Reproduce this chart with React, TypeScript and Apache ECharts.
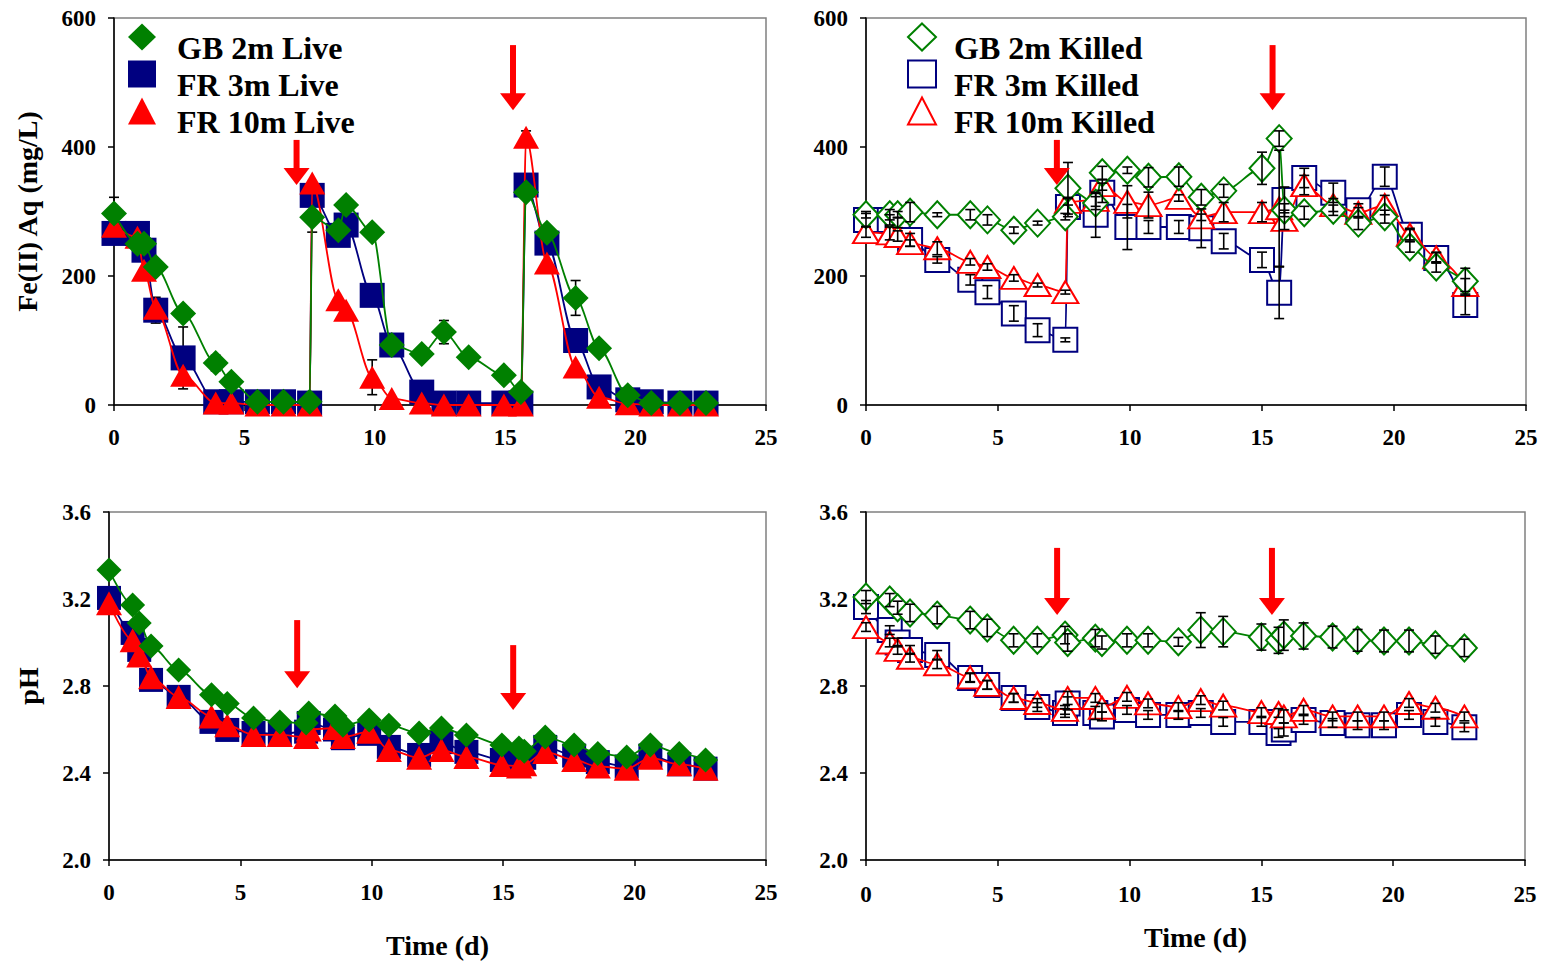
import React, { useEffect, useRef } from "react";
import * as echarts from "echarts";

const FONT = "'Liberation Serif', 'Times New Roman', serif";
const GREEN = "#008000";
const NAVY = "#000080";
const RED = "#FF0000";

// ---------- Time axes (days) ----------
const liveTime = [0, 0.9, 1.15, 1.6, 2.65, 3.9, 4.5, 5.5, 6.5, 7.5, 7.6, 8.6, 8.9, 9.9, 10.65, 11.8, 12.65, 13.6, 14.95, 15.6, 15.8, 16.6, 17.7, 18.6, 19.7, 20.6, 21.7, 22.7];
const killedTime = [0, 0.9, 1.2, 1.67, 2.7, 3.95, 4.6, 5.6, 6.5, 7.55, 7.65, 8.7, 8.95, 9.9, 10.7, 11.85, 12.7, 13.55, 15.0, 15.65, 15.85, 16.6, 17.7, 18.65, 19.65, 20.6, 21.6, 22.7];

// ---------- Fe(II) aq (mg/L), live ----------
const feGBLive = [297, 250, 250, 214, 142, 65, 36, 5, 5, 5, 291, 271, 310, 268, 93, 79, 113, 74, 46, 20, 330, 267, 166, 88, 15, 3, 3, 3];
const feFR3Live = [266, 266, 240, 147, 73, 5, 5, 5, 5, 3, 325, 263, 279, 170, 93, 20, 3, 3, 3, 3, 341, 251, 100, 28, 8, 5, 3, 3];
const feFR10Live = [277, 260, 209, 150, 46, 3, 3, 0, 0, 0, 344, 163, 147, 43, 10, 3, 0, 0, 0, 0, 415, 220, 59, 12, 2, 0, 0, 0];
const feGBLiveErr = [25, 0, 0, 0, 0, 12, 8, 0, 0, 0, 23, 0, 8, 5, 0, 0, 18, 0, 0, 0, 5, 10, 27, 8, 5, 0, 0, 0];
const feFR3LiveErr = [0, 0, 0, 20, 48, 0, 0, 0, 0, 0, 8, 0, 0, 0, 0, 0, 0, 0, 0, 0, 0, 10, 0, 0, 0, 0, 0, 0];
const feFR10LiveErr = [0, 0, 0, 0, 0, 0, 0, 0, 0, 0, 0, 0, 0, 27, 0, 0, 0, 0, 0, 0, 10, 0, 0, 0, 0, 0, 0, 0];

// ---------- Fe(II) aq (mg/L), killed ----------
const feGBKilled = [295, 295, 295, 299, 295, 295, 287, 271, 282, 292, 336, 313, 360, 364, 353, 354, 322, 332, 367, 413, 302, 298, 302, 282, 292, 245, 214, 192];
const feFR3Killed = [287, 287, 283, 256, 225, 194, 175, 142, 116, 101, 307, 295, 329, 276, 276, 276, 274, 254, 225, 174, 318, 352, 329, 302, 354, 264, 228, 155];
const feFR10Killed = [268, 266, 262, 251, 243, 222, 214, 197, 186, 175, 315, 318, 341, 315, 310, 321, 291, 299, 299, 305, 287, 341, 310, 298, 310, 264, 229, 186];
const feGBKilledErr = [5, 8, 5, 15, 3, 8, 8, 5, 3, 5, 40, 10, 10, 5, 15, 15, 12, 10, 25, 12, 10, 10, 8, 10, 10, 8, 8, 20];
const feFR3KilledErr = [10, 8, 8, 10, 5, 8, 10, 12, 10, 3, 15, 35, 15, 35, 10, 10, 30, 12, 12, 40, 20, 15, 15, 10, 15, 8, 8, 15];
const feFR10KilledErr = [8, 10, 8, 5, 10, 5, 5, 5, 3, 3, 5, 10, 8, 25, 20, 5, 5, 15, 15, 90, 15, 15, 10, 8, 15, 10, 8, 10];

// ---------- pH, live ----------
const phGBLive = [3.333, 3.172, 3.09, 2.984, 2.874, 2.76, 2.72, 2.653, 2.634, 2.63, 2.676, 2.662, 2.62, 2.644, 2.62, 2.584, 2.607, 2.575, 2.529, 2.515, 2.5, 2.565, 2.529, 2.49, 2.474, 2.529, 2.49, 2.46];
const phFR3Live = [3.205, 3.044, 2.966, 2.828, 2.75, 2.635, 2.598, 2.584, 2.58, 2.59, 2.63, 2.6, 2.56, 2.58, 2.52, 2.483, 2.542, 2.497, 2.46, 2.46, 2.47, 2.52, 2.48, 2.45, 2.43, 2.48, 2.44, 2.42];
const phFR10Live = [3.18, 3.01, 2.94, 2.84, 2.75, 2.66, 2.62, 2.575, 2.575, 2.565, 2.6, 2.607, 2.565, 2.59, 2.506, 2.47, 2.506, 2.474, 2.437, 2.43, 2.44, 2.497, 2.46, 2.43, 2.42, 2.47, 2.44, 2.42];

// ---------- pH, killed ----------
const phGBKilled = [3.209, 3.195, 3.16, 3.136, 3.126, 3.103, 3.067, 3.01, 3.01, 3.034, 3.0, 3.02, 3.0, 3.01, 3.01, 3.003, 3.057, 3.05, 3.025, 3.01, 3.034, 3.03, 3.025, 3.01, 3.007, 3.007, 2.99, 2.975];
const phFR3Killed = [3.163, 3.057, 3.0, 2.966, 2.943, 2.837, 2.805, 2.745, 2.703, 2.676, 2.72, 2.676, 2.66, 2.69, 2.667, 2.667, 2.676, 2.635, 2.635, 2.584, 2.6, 2.644, 2.63, 2.62, 2.62, 2.667, 2.635, 2.61];
const phFR10Killed = [3.071, 3.0, 2.966, 2.93, 2.9, 2.84, 2.805, 2.745, 2.722, 2.69, 2.745, 2.745, 2.7, 2.75, 2.72, 2.703, 2.735, 2.71, 2.68, 2.676, 2.66, 2.69, 2.66, 2.66, 2.66, 2.722, 2.7, 2.66];
const phGBKilledErr = [0.03, 0.03, 0.03, 0.04, 0.04, 0.04, 0.04, 0.03, 0.03, 0.04, 0.04, 0.04, 0.03, 0.03, 0.03, 0.02, 0.08, 0.07, 0.06, 0.06, 0.07, 0.06, 0.05, 0.05, 0.05, 0.05, 0.04, 0.04];
const phFR3KilledErr = [0.03, 0.02, 0.02, 0.02, 0.02, 0.02, 0.02, 0.02, 0.02, 0.02, 0.03, 0.03, 0.02, 0.02, 0.02, 0.02, 0.02, 0.02, 0.02, 0.02, 0.03, 0.02, 0.02, 0.02, 0.02, 0.02, 0.02, 0.02];
const phFR10KilledErr = [0.02, 0.02, 0.02, 0.02, 0.02, 0.02, 0.02, 0.02, 0.02, 0.02, 0.03, 0.02, 0.02, 0.02, 0.02, 0.02, 0.02, 0.02, 0.02, 0.02, 0.03, 0.02, 0.02, 0.02, 0.02, 0.02, 0.02, 0.02];

// ---------- Arrows: [time, top value, tip value] per panel ----------
const arrowsFeLive = [[7.0, 411, 341], [15.3, 558, 457]];
const arrowsFeKilled = [[7.23, 411, 341], [15.4, 558, 457]];
const arrowsPhLive = [[7.16, 3.103, 2.79], [15.38, 2.988, 2.69]];
const arrowsPhKilled = [[7.25, 3.435, 3.126], [15.4, 3.435, 3.126]];

// ---------- Axis ticks ----------
const timeTicks = { min: 0, max: 25, interval: 5 };
const feTicks = { min: 0, max: 600, interval: 200 };
const phTicks = { min: 2.0, max: 3.6, interval: 0.4 };

const liveNames = ["GB 2m Live", "FR 3m Live", "FR 10m Live"];
const killedNames = ["GB 2m Killed", "FR 3m Killed", "FR 10m Killed"];

function errRender(params: any, api: any) {
  const x = api.value(0);
  const p1 = api.coord([x, api.value(2)]);
  const p2 = api.coord([x, api.value(1)]);
  const w = 5;
  const style = { stroke: "#000", lineWidth: 1.6 };
  return {
    type: "group",
    children: [
      { type: "line", shape: { x1: p1[0], y1: p1[1], x2: p2[0], y2: p2[1] }, style },
      { type: "line", shape: { x1: p1[0] - w, y1: p1[1], x2: p1[0] + w, y2: p1[1] }, style },
      { type: "line", shape: { x1: p2[0] - w, y1: p2[1], x2: p2[0] + w, y2: p2[1] }, style },
    ],
  };
}

function arrowRender(params: any, api: any) {
  const top = api.coord([api.value(0), api.value(1)]);
  const tip = api.coord([api.value(0), api.value(2)]);
  const headH = 17;
  const headW = 13;
  const sw = 3;
  return {
    type: "group",
    children: [
      { type: "rect", shape: { x: top[0] - sw, y: top[1], width: sw * 2, height: tip[1] - top[1] - headH + 1 }, style: { fill: RED } },
      {
        type: "polygon",
        shape: { points: [[tip[0] - headW, tip[1] - headH], [tip[0] + headW, tip[1] - headH], [tip[0], tip[1]]] },
        style: { fill: RED },
      },
    ],
  };
}

function lineSeries(name: string, xs: number[], ys: number[], gi: number, color: string, symbol: string, size: any, hollow: boolean, z: number) {
  return {
    name,
    type: "line",
    xAxisIndex: gi,
    yAxisIndex: gi,
    data: xs.map((x, i) => [x, ys[i]]),
    smooth: 0.3,
    smoothMonotone: "x",
    symbol: hollow ? "empty" + symbol : symbol,
    symbolSize: size,
    showAllSymbol: true,
    clip: false,
    lineStyle: { color, width: 1.8 },
    itemStyle: { color, borderColor: color, borderWidth: hollow ? 2 : 0 },
    emphasis: { disabled: true },
    z,
  };
}

function errSeries(xs: number[], ys: number[], errs: number[], gi: number, z: number) {
  const data: number[][] = [];
  xs.forEach((x, i) => {
    if (errs[i] > 0) data.push([x, ys[i] - errs[i], ys[i] + errs[i]]);
  });
  return { type: "custom", xAxisIndex: gi, yAxisIndex: gi, renderItem: errRender, data, z, silent: true, clip: false, encode: { x: 0, y: [1, 2] } };
}

function arrowSeries(data: number[][], gi: number) {
  return { type: "custom", xAxisIndex: gi, yAxisIndex: gi, renderItem: arrowRender, data, z: 10, silent: true, clip: false, encode: { x: 0, y: [1, 2] } };
}

const labelStyle = { fontFamily: FONT, fontWeight: "bold", fontSize: 23, color: "#000" };
const nameStyle = { fontFamily: FONT, fontWeight: "bold", fontSize: 28, color: "#000" };

function xAxis(gi: number, withName: boolean, nameGap: number, margin: number) {
  return {
    type: "value",
    gridIndex: gi,
    ...timeTicks,
    name: withName ? "Time (d)" : "",
    nameLocation: "middle",
    nameGap,
    nameTextStyle: nameStyle,
    axisLine: { show: true, onZero: false, lineStyle: { color: "#000", width: 1.5 } },
    axisTick: { show: true, length: 6, lineStyle: { color: "#000", width: 1.5 } },
    axisLabel: { ...labelStyle, margin },
    splitLine: { show: false },
  };
}

function yAxis(gi: number, ticks: any, name: string, nameGap: number, fmt: (v: number) => string) {
  return {
    type: "value",
    gridIndex: gi,
    ...ticks,
    name,
    nameLocation: "middle",
    nameGap,
    nameTextStyle: nameStyle,
    axisLine: { show: true, onZero: false, lineStyle: { color: "#000", width: 1.5 } },
    axisTick: { show: true, length: 6, lineStyle: { color: "#000", width: 1.5 } },
    axisLabel: { ...labelStyle, margin: 18, formatter: fmt },
    splitLine: { show: false },
  };
}

function legendOf(names: string[], icons: string[], left: number, padLeft: number) {
  return {
    orient: "vertical",
    left,
    top: 10,
    padding: 0,
    itemWidth: 28,
    itemHeight: 27,
    itemGap: -17,
    selectedMode: false,
    data: names.map((n, i) => ({ name: n, icon: icons[i] })),
    formatter: (n: string) => `{t|${n}}`,
    textStyle: {
      color: "#000",
      rich: {
        t: { fontFamily: FONT, fontWeight: "bold", fontSize: 32, lineHeight: 31, color: "#000", padding: [22, 0, 0, padLeft] },
      },
    },
  };
}

export default function App() {
  const ref = useRef<HTMLDivElement>(null);
  useEffect(() => {
    if (!ref.current) return;
    const chart = echarts.init(ref.current, undefined, { renderer: "svg" });
    const gridBase = { show: true, borderColor: "#808080", borderWidth: 1.5, backgroundColor: "transparent" };
    const option: any = {
      animation: false,
      backgroundColor: "#fff",
      grid: [
        { ...gridBase, left: 114, top: 18, width: 652, height: 387 },
        { ...gridBase, left: 866, top: 18, width: 660, height: 387 },
        { ...gridBase, left: 109, top: 512, width: 657, height: 348 },
        { ...gridBase, left: 866, top: 512, width: 659, height: 348 },
      ],
      xAxis: [xAxis(0, false, 0, 21), xAxis(1, false, 0, 21), xAxis(2, true, 71, 21), xAxis(3, true, 63, 23)],
      yAxis: [
        yAxis(0, feTicks, "Fe(II) Aq (mg/L)", 73, (v) => String(v)),
        yAxis(1, feTicks, "", 0, (v) => String(v)),
        yAxis(2, phTicks, "pH", 67, (v) => v.toFixed(1)),
        yAxis(3, phTicks, "", 0, (v) => v.toFixed(1)),
      ],
      legend: [
        legendOf(liveNames, ["diamond", "rect", "triangle"], 128, 16),
        legendOf(killedNames, ["emptyDiamond", "emptyRect", "emptyTriangle"], 907, 13),
      ],
      series: [
        // Panel 0: Fe live
        errSeries(liveTime, feFR3Live, feFR3LiveErr, 0, 1),
        errSeries(liveTime, feFR10Live, feFR10LiveErr, 0, 1),
        errSeries(liveTime, feGBLive, feGBLiveErr, 0, 1),
        lineSeries(liveNames[1], liveTime, feFR3Live, 0, NAVY, "rect", 25, false, 2),
        lineSeries(liveNames[2], liveTime, feFR10Live, 0, RED, "triangle", [26, 23], false, 3),
        lineSeries(liveNames[0], liveTime, feGBLive, 0, GREEN, "diamond", 26, false, 4),
        arrowSeries(arrowsFeLive, 0),
        // Panel 1: Fe killed
        lineSeries(killedNames[1], killedTime, feFR3Killed, 1, NAVY, "Rect", 24, true, 2),
        lineSeries(killedNames[2], killedTime, feFR10Killed, 1, RED, "Triangle", [26, 22], true, 3),
        lineSeries(killedNames[0], killedTime, feGBKilled, 1, GREEN, "Diamond", [25, 27], true, 4),
        errSeries(killedTime, feFR3Killed, feFR3KilledErr, 1, 5),
        errSeries(killedTime, feFR10Killed, feFR10KilledErr, 1, 5),
        errSeries(killedTime, feGBKilled, feGBKilledErr, 1, 5),
        arrowSeries(arrowsFeKilled, 1),
        // Panel 2: pH live
        lineSeries(liveNames[1], liveTime, phFR3Live, 2, NAVY, "rect", 24, false, 2),
        lineSeries(liveNames[2], liveTime, phFR10Live, 2, RED, "triangle", [26, 24], false, 3),
        lineSeries(liveNames[0], liveTime, phGBLive, 2, GREEN, "diamond", 25, false, 4),
        arrowSeries(arrowsPhLive, 2),
        // Panel 3: pH killed
        lineSeries(killedNames[1], killedTime, phFR3Killed, 3, NAVY, "Rect", 24, true, 2),
        lineSeries(killedNames[2], killedTime, phFR10Killed, 3, RED, "Triangle", [26, 22], true, 3),
        lineSeries(killedNames[0], killedTime, phGBKilled, 3, GREEN, "Diamond", [25, 27], true, 4),
        errSeries(killedTime, phFR3Killed, phFR3KilledErr, 3, 5),
        errSeries(killedTime, phFR10Killed, phFR10KilledErr, 3, 5),
        errSeries(killedTime, phGBKilled, phGBKilledErr, 3, 5),
        arrowSeries(arrowsPhKilled, 3),
      ],
    };
    chart.setOption(option);
    return () => chart.dispose();
  }, []);
  return <div ref={ref} style={{ position: "absolute", left: 0, top: 0, width: 1545, height: 961 }} />;
}
